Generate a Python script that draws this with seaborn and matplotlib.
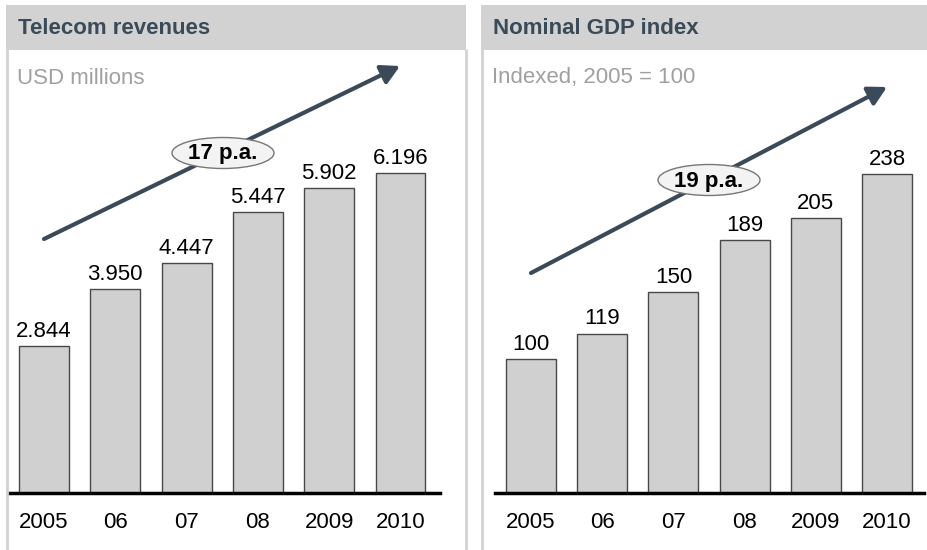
import matplotlib
matplotlib.use("Agg")
import matplotlib.pyplot as plt
import pandas as pd
import seaborn as sns
from matplotlib.patches import Rectangle, Ellipse, FancyArrowPatch
from matplotlib.lines import Line2D

# data
years = ["2005", "06", "07", "08", "2009", "2010"]
telecom_revenues = [2844, 3950, 4447, 5447, 5902, 6196]
gdp_index = [100, 119, 150, 189, 205, 238]
titles = ["Telecom revenues", "Nominal GDP index"]
subtitles = ["USD millions", "Indexed, 2005 = 100"]
cagr_labels = ["17 p.a.", "19 p.a."]

W, H = 928, 550
sns.set_theme(style="white")
plt.rcParams["font.family"] = ["Liberation Sans", "DejaVu Sans"]

fig = plt.figure(figsize=(W / 100, H / 100), dpi=100)
fig.patch.set_facecolor("white")

HEADER = "#d2d2d2"
DARK = "#3b4a58"
BAR = "#d0d0d0"
FS = 16


def px(x, y):
    # pixel (from top-left) to figure fraction
    return x / W, 1 - y / H


def panel(x0, x1, title, subtitle):
    fig.add_artist(Rectangle(px(x0, 50), (x1 - x0) / W, 45 / H,
                             transform=fig.transFigure, facecolor=HEADER,
                             edgecolor="none"))
    for xx in (x0 + 1, x1):
        fig.add_artist(Line2D([xx / W, xx / W], [0, 1 - 50 / H],
                              transform=fig.transFigure, color=HEADER, lw=2))
    fig.text(*px(x0 + 12, 28), title, fontsize=FS, fontweight="bold",
             color=DARK, va="center", ha="left")
    fig.text(*px(x0 + 11, 78), subtitle, fontsize=FS, color="#a0a0a0",
             va="center", ha="left")


def bars(left, right, center0, pitch, values, fmt, top_px):
    base = 493
    top = 60
    ax = fig.add_axes([left / W, (H - base) / H, (right - left) / W, (base - top) / H])
    df = pd.DataFrame({"year": years, "value": values})
    sns.barplot(data=df, x="year", y="value", color=BAR, width=0.7,
                edgecolor="#484848", linewidth=1.0, saturation=1, ax=ax)
    ax.set_xlim((left - center0) / pitch, (right - center0) / pitch)
    ymax = max(values) * (base - top) / (base - top_px)
    ax.set_ylim(0, ymax)
    for i, v in enumerate(values):
        ax.annotate(fmt(v), (i, v), xytext=(0, 3), textcoords="offset points",
                    ha="center", va="bottom", fontsize=FS, color="black")
    ax.set_xlabel("")
    ax.set_ylabel("")
    ax.set_yticks([])
    ax.tick_params(axis="x", length=0, labelsize=FS, pad=14, colors="black")
    for s in ("top", "right", "left"):
        ax.spines[s].set_visible(False)
    ax.spines["bottom"].set_color("black")
    ax.spines["bottom"].set_linewidth(2.5)
    ax.patch.set_alpha(0)
    return ax


def trend(x0, y0, x1, y1, ex, ey, label):
    fig.add_artist(FancyArrowPatch(
        px(x0, y0), px(x1, y1), transform=fig.transFigure,
        arrowstyle="-|>,head_length=11,head_width=6", mutation_scale=1,
        color=DARK, lw=3, shrinkA=0, shrinkB=0))
    fig.add_artist(Ellipse(px(ex, ey), 102 / W, 31 / H, transform=fig.transFigure,
                           facecolor="#f3f3f3", edgecolor="#777777", lw=1))
    fig.text(*px(ex, ey + 1), label, fontsize=FS, fontweight="bold",
             ha="center", va="center", color="black")


panel(6, 466, titles[0], subtitles[0])
panel(481, 928, titles[1], subtitles[1])

bars(8, 440, 44, 71.3, telecom_revenues, lambda v: f"{v / 1000:.3f}", 173)
bars(495, 924, 531, 71.2, gdp_index, lambda v: f"{v}", 174)

trend(44, 239, 400, 66, 223, 153, cagr_labels[0])
trend(531, 273, 887, 87, 709, 180, cagr_labels[1])

fig.savefig("out.png", dpi=100)
